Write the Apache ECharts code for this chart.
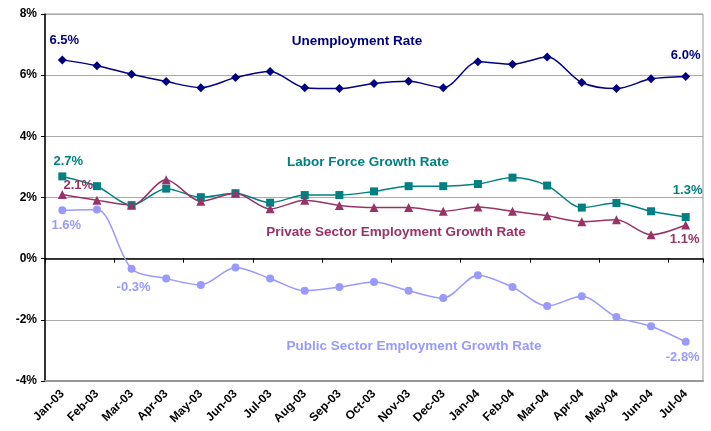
<!DOCTYPE html>
<html><head><meta charset="utf-8">
<script src="https://cdn.jsdelivr.net/npm/echarts@6/dist/echarts.min.js"></script>
<style>html,body{margin:0;padding:0;background:#fff}#c{width:711px;height:431px}</style>
</head><body><div id="c"></div>
<script>
var categories = ["Jan-03","Feb-03","Mar-03","Apr-03","May-03","Jun-03","Jul-03","Aug-03","Sep-03","Oct-03","Nov-03","Dec-03","Jan-04","Feb-04","Mar-04","Apr-04","May-04","Jun-04","Jul-04"];
var unemployment = [6.50,6.31,6.03,5.79,5.59,5.92,6.12,5.59,5.56,5.73,5.80,5.59,6.44,6.36,6.59,5.76,5.56,5.88,5.96];
var laborForce = [2.69,2.37,1.75,2.29,2.01,2.14,1.83,2.08,2.08,2.20,2.37,2.37,2.44,2.65,2.39,1.67,1.82,1.55,1.36];
var privateSector = [2.10,1.91,1.75,2.58,1.88,2.14,1.63,1.91,1.74,1.67,1.67,1.55,1.69,1.55,1.40,1.21,1.27,0.78,1.10];
var publicSector = [1.58,1.61,-0.33,-0.65,-0.86,-0.29,-0.65,-1.05,-0.93,-0.76,-1.05,-1.29,-0.54,-0.93,-1.55,-1.23,-1.91,-2.21,-2.72];
var yTicks = {min:-4, max:8, interval:2};

var FONT = '"Liberation Sans", Arial, sans-serif';
function lbl(text, color, pos, offset){
  return {show:true, formatter:text, color:color, position:pos, offset:offset||[0,0],
    fontFamily:FONT, fontWeight:'bold', fontSize:13};
}
function build(values, labels){
  return values.map(function(v,i){
    var d = {value:v};
    if (labels[i]) d.label = labels[i];
    return d;
  });
}
var C1='#000080', C2='#008080', C3='#993366', C4='#9999FF';
var last = categories.length-1;
var uLabels = {}; uLabels[0]=lbl('6.5%',C1,'top',[2,-3]); uLabels[last]=lbl('6.0%',C1,'top',[0,-5]);
var lLabels = {}; lLabels[0]=lbl('2.7%',C2,'top',[6,1]); lLabels[last]=lbl('1.3%',C2,'top',[2,-11]);
var pLabels = {}; pLabels[0]=lbl('2.1%',C3,'top',[16,7]); pLabels[last]=lbl('1.1%',C3,'bottom',[-1,-2]);
var qLabels = {}; qLabels[0]=lbl('1.6%',C4,'bottom',[4,0]); qLabels[2]=lbl('-0.3%',C4,'bottom',[2,3]); qLabels[last]=lbl('-2.8%',C4,'bottom',[-3,0]);

var chart = echarts.init(document.getElementById('c'));
function ser(name, vals, labels, color, symbol, size){
  return {name:name, type:'line', data:build(vals,labels), smooth:0.3,
    symbol:symbol, symbolSize:size, showAllSymbol:true,
    lineStyle:{color:color, width:1.5}, itemStyle:{color:color},
    label:{show:false}, xAxisIndex:0, z:3};
}
var TF = 'bold 13.5px ' + FONT;
chart.setOption({
  animation:false,
  grid:{left:45, right:8, top:14, bottom:50, show:true, borderColor:'#999', borderWidth:1},
  xAxis:[
    {type:'category', data:categories, position:'top', boundaryGap:true,
     axisLine:{onZero:true, lineStyle:{color:'#000', width:1.5}},
     axisTick:{show:true, inside:true, length:4, lineStyle:{color:'#000'}},
     axisLabel:{show:false}, splitLine:{show:false}},
    {type:'category', data:categories, position:'bottom', boundaryGap:true,
     axisLine:{show:true, onZero:false, lineStyle:{color:'#999', width:2}},
     axisTick:{show:false},
     axisLabel:{show:true, rotate:45, interval:0, margin:11, color:'#000', fontFamily:FONT, fontWeight:'bold', fontSize:12},
     splitLine:{show:false}}
  ],
  yAxis:{type:'value', min:yTicks.min, max:yTicks.max, interval:yTicks.interval,
    axisLine:{show:true, onZero:false, lineStyle:{color:'#000', width:1.5}},
    axisTick:{show:true, length:4, lineStyle:{color:'#000'}},
    axisLabel:{formatter:'{value}%', color:'#000', fontFamily:FONT, fontWeight:'bold', fontSize:12, margin:8},
    splitLine:{show:true, lineStyle:{color:'#aaa', width:1}}},
  series:[
    ser('Unemployment Rate', unemployment, uLabels, C1, 'diamond', 9),
    ser('Labor Force Growth Rate', laborForce, lLabels, C2, 'rect', 8),
    ser('Private Sector Employment Growth Rate', privateSector, pLabels, C3, 'triangle', 9),
    ser('Public Sector Employment Growth Rate', publicSector, qLabels, C4, 'circle', 8)
  ],
  graphic:[
    {type:'text', x:357, y:41, style:{text:'Unemployment Rate', fill:C1, font:TF, textAlign:'center', textVerticalAlign:'middle'}},
    {type:'text', x:368, y:162, style:{text:'Labor Force Growth Rate', fill:C2, font:TF, textAlign:'center', textVerticalAlign:'middle'}},
    {type:'text', x:396, y:232, style:{text:'Private Sector Employment Growth Rate', fill:C3, font:TF, textAlign:'center', textVerticalAlign:'middle'}},
    {type:'text', x:414, y:346, style:{text:'Public Sector Employment Growth Rate', fill:C4, font:TF, textAlign:'center', textVerticalAlign:'middle'}}
  ]
});
</script></body></html>
